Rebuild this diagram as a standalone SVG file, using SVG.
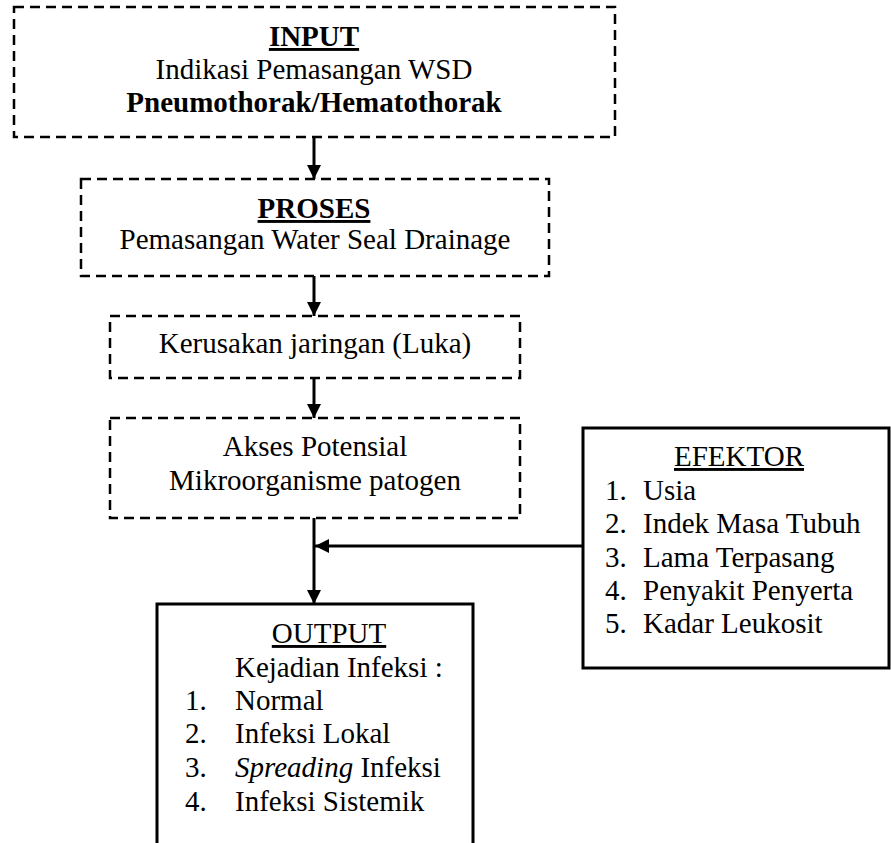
<svg xmlns="http://www.w3.org/2000/svg" width="891" height="843" viewBox="0 0 891 843">
<defs>
<style>
.t{font-family:"Liberation Serif","Times New Roman",serif;font-size:29px;fill:#000}
.c{text-anchor:middle}
.b{font-weight:bold}
.u{text-decoration:underline}
.dash{fill:none;stroke:#000;stroke-width:2.5;stroke-dasharray:10 6}
.solid{fill:none;stroke:#000;stroke-width:3}
.ln{fill:none;stroke:#000;stroke-width:3}
</style>
<marker id="ah" viewBox="0 0 10 10" refX="10" refY="5" markerWidth="14" markerHeight="14" markerUnits="userSpaceOnUse" orient="auto">
<path d="M0,0 L10,5 L0,10 z" fill="#000"/>
</marker>
</defs>
<rect width="891" height="843" fill="#fff"/>
<g id="input">
<rect class="dash" x="14" y="7" width="601" height="130"/>
<text class="t c b u" x="314" y="46">INPUT</text>
<text class="t c" x="314" y="79">Indikasi Pemasangan WSD</text>
<text class="t c b" x="314" y="112">Pneumothorak/Hematothorak</text>
</g>
<g id="proses">
<rect class="dash" x="81" y="179" width="468" height="97"/>
<text class="t c b u" x="314" y="218">PROSES</text>
<text class="t c" x="315" y="249">Pemasangan Water Seal Drainage</text>
</g>
<g id="kerusakan">
<rect class="dash" x="110" y="316" width="410" height="62"/>
<text class="t c" x="315" y="353">Kerusakan jaringan (Luka)</text>
</g>
<g id="akses">
<rect class="dash" x="110" y="418" width="410" height="100"/>
<text class="t c" x="315" y="456">Akses Potensial</text>
<text class="t c" x="315" y="490">Mikroorganisme patogen</text>
</g>
<g id="efektor">
<rect class="solid" x="583" y="428" width="306" height="240"/>
<text class="t c u" x="739" y="466">EFEKTOR</text>
<text class="t" x="605" y="500">1.</text><text class="t" x="643" y="500">Usia</text>
<text class="t" x="605" y="533">2.</text><text class="t" x="643" y="533">Indek Masa Tubuh</text>
<text class="t" x="605" y="567">3.</text><text class="t" x="643" y="567">Lama Terpasang</text>
<text class="t" x="605" y="600">4.</text><text class="t" x="643" y="600">Penyakit Penyerta</text>
<text class="t" x="605" y="633">5.</text><text class="t" x="643" y="633">Kadar Leukosit</text>
</g>
<g id="output">
<path class="solid" d="M157,845 V604 H473 V845"/>
<text class="t c u" x="329" y="643">OUTPUT</text>
<text class="t" x="235" y="677">Kejadian Infeksi :</text>
<text class="t" x="185" y="710">1.</text><text class="t" x="235" y="710">Normal</text>
<text class="t" x="185" y="743">2.</text><text class="t" x="235" y="743">Infeksi Lokal</text>
<text class="t" x="185" y="777">3.</text><text class="t" x="235" y="777"><tspan font-style="italic">Spreading</tspan> Infeksi</text>
<text class="t" x="185" y="811">4.</text><text class="t" x="235" y="811">Infeksi Sistemik</text>
</g>
<g id="connectors">
<line class="ln" x1="314" y1="137" x2="314" y2="179" marker-end="url(#ah)"/>
<line class="ln" x1="314" y1="276" x2="314" y2="316" marker-end="url(#ah)"/>
<line class="ln" x1="314" y1="378" x2="314" y2="418" marker-end="url(#ah)"/>
<line class="ln" x1="314" y1="518" x2="314" y2="604" marker-end="url(#ah)"/>
<line class="ln" x1="583" y1="546" x2="315" y2="546" marker-end="url(#ah)"/>
</g>
</svg>
